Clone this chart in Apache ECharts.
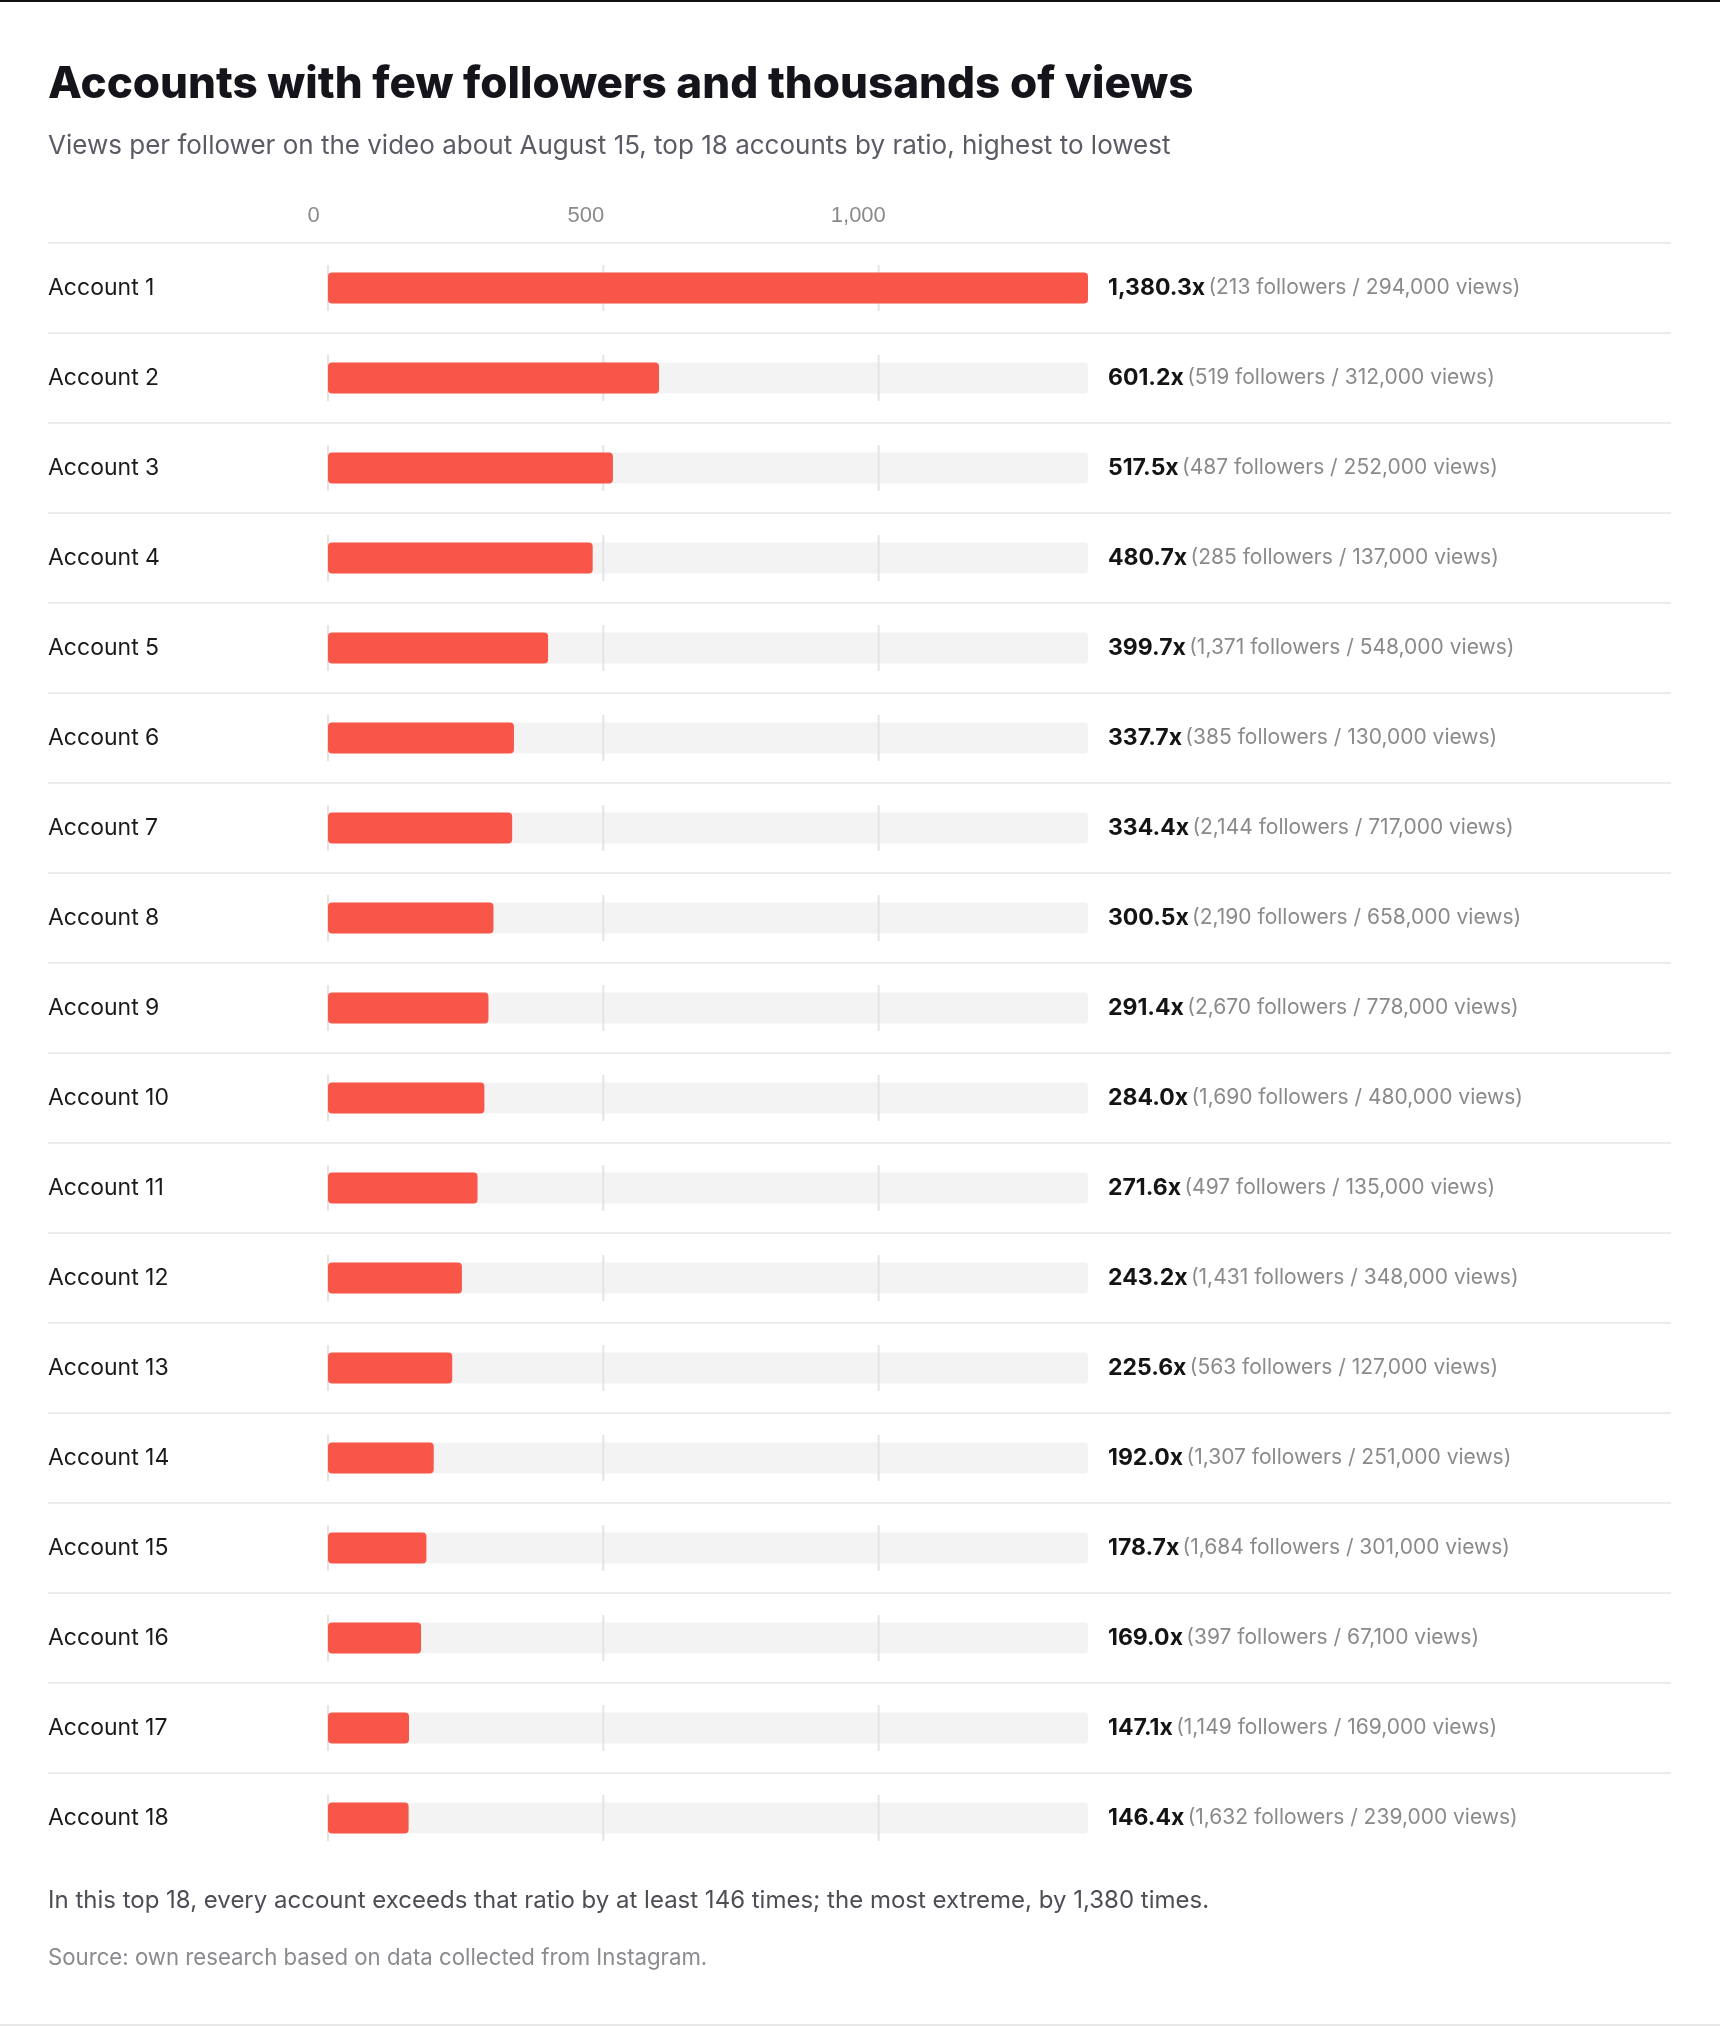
<!DOCTYPE html>
<html>
<head>
<meta charset="utf-8">
<script src="https://cdn.jsdelivr.net/npm/echarts@6/dist/echarts.min.js"></script>
<style>
  html, body { margin: 0; padding: 0; background: #ffffff; }
  #wrap { position: relative; width: 1720px; height: 2026px; overflow: hidden; background: #fff; }
  #chart { position: absolute; left: 0; top: 0; width: 1720px; height: 2026px; }
  #topline { position: absolute; left: 0; top: 0; width: 1720px; height: 2px; background: #111114; z-index: 2; }
  #botline { position: absolute; left: 0; bottom: 0; width: 1720px; height: 2px; background: #e8e8e8; z-index: 2; }
</style>
</head>
<body>
<div id="wrap">
  <div id="chart"></div>
  <div id="topline"></div>
  <div id="botline"></div>
</div>
<script>
// ---- data ----
const categories = ['Account 1','Account 2','Account 3','Account 4','Account 5','Account 6','Account 7','Account 8','Account 9','Account 10','Account 11','Account 12','Account 13','Account 14','Account 15','Account 16','Account 17','Account 18'];
const ratios = [1380.3, 601.2, 517.5, 480.7, 399.7, 337.7, 334.4, 300.5, 291.4, 284.0, 271.6, 243.2, 225.6, 192.0, 178.7, 169.0, 147.1, 146.4];
const followers = [213, 519, 487, 285, 1371, 385, 2144, 2190, 2670, 1690, 497, 1431, 563, 1307, 1684, 397, 1149, 1632];
const views = [294000, 312000, 252000, 137000, 548000, 130000, 717000, 658000, 778000, 480000, 135000, 348000, 127000, 251000, 301000, 67100, 169000, 239000];
const tickValues = [0, 500, 1000];
const tickLabels = ['0', '500', '1,000'];

const titleText = 'Accounts with few followers and thousands of views';
const subtitleText = 'Views per follower on the video about August 15, top 18 accounts by ratio, highest to lowest';
const noteText = 'In this top 18, every account exceeds that ratio by at least 146 times; the most extreme, by 1,380 times.';
const sourceText = 'Source: own research based on data collected from Instagram.';

// ---- helpers ----
const FONT = 'Inter, "Noto Sans", sans-serif';
const axisMax = Math.max.apply(null, ratios);
const fmtInt = n => n.toLocaleString('en-US');
const fmtRatio = n => n.toLocaleString('en-US', { minimumFractionDigits: 1, maximumFractionDigits: 1 }) + 'x';

const trackData = categories.map(() => axisMax);
const tickMarks = [];
categories.forEach(c => tickValues.forEach(t => tickMarks.push([t, c])));
const sepData = categories.map(c => [0, c]);

const chart = echarts.init(document.getElementById('chart'), null, { renderer: 'canvas' });

const option = {
  backgroundColor: '#ffffff',
  animation: false,
  title: [
    { text: titleText, left: 48, top: 63, padding: 0,
      textStyle: { fontFamily: FONT, fontSize: 44, fontWeight: 800, color: '#15141a' } },
    { text: subtitleText, left: 48, top: 133, padding: 0,
      textStyle: { fontFamily: FONT, fontSize: 26, fontWeight: 400, color: '#5b5b66' } },
    { text: noteText, left: 48, top: 1889, padding: 0,
      textStyle: { fontFamily: FONT, fontSize: 24, fontWeight: 400, color: '#4d4d55' } },
    { text: sourceText, left: 48, top: 1947.5, padding: 0,
      textStyle: { fontFamily: FONT, fontSize: 22.2, fontWeight: 400, color: '#8a8a8f' } }
  ],
  grid: [
    { left: 328, top: 243, width: 760, height: 1620 },
    { left: 48, top: 243, width: 1623, height: 1620 },
    { left: 313.5, top: 243, width: 752, height: 1620 }
  ],
  xAxis: [
    { type: 'value', gridIndex: 0, min: 0, max: axisMax, show: false },
    { type: 'value', gridIndex: 1, min: 0, max: 1, show: false },
    { type: 'value', gridIndex: 2, min: 0, max: axisMax, interval: 500, position: 'top',
      axisLine: { show: false }, axisTick: { show: false }, splitLine: { show: false },
      axisLabel: {
        show: true, margin: 16, color: '#8a8a8a', fontSize: 22,
        fontFamily: 'Liberation Sans, Arial, sans-serif',
        formatter: v => { const i = tickValues.indexOf(v); return i >= 0 ? tickLabels[i] : ''; }
      } }
  ],
  yAxis: [
    { type: 'category', gridIndex: 0, data: categories, inverse: true,
      axisLine: { show: false }, axisTick: { show: false }, splitLine: { show: false },
      axisLabel: { show: true, margin: 280, align: 'left', color: '#1a1a1a', fontSize: 23, fontFamily: FONT } },
    { type: 'category', gridIndex: 1, data: categories, inverse: true, show: false },
    { type: 'category', gridIndex: 2, data: categories, inverse: true, show: false }
  ],
  series: [
    {
      type: 'custom', xAxisIndex: 1, yAxisIndex: 1, z: 0,
      data: sepData,
      encode: { x: 0, y: 1 },
      renderItem: function (params, api) {
        const pt = api.coord([0, api.value(1)]);
        const band = api.size([0, 1])[1];
        const y = Math.round(pt[1] - band / 2);
        const cs = params.coordSys;
        return { type: 'line',
          shape: { x1: cs.x, y1: y, x2: cs.x + cs.width, y2: y },
          style: { stroke: '#ececec', lineWidth: 2 } };
      }
    },
    {
      type: 'bar', xAxisIndex: 0, yAxisIndex: 0, z: 1,
      data: trackData, barWidth: 31, barGap: '-100%',
      itemStyle: { color: '#f3f3f3', borderRadius: 4 },
      label: {
        show: true, position: 'right', distance: 20,
        formatter: p => '{v|' + fmtRatio(ratios[p.dataIndex]) + '} {d|(' + fmtInt(followers[p.dataIndex]) + ' followers / ' + fmtInt(views[p.dataIndex]) + ' views)}',
        rich: {
          v: { fontFamily: FONT, fontSize: 23, fontWeight: 700, color: '#141414' },
          d: { fontFamily: FONT, fontSize: 21, fontWeight: 400, color: '#8a8a8a' }
        }
      },
      silent: true
    },
    {
      type: 'scatter', xAxisIndex: 0, yAxisIndex: 0, z: 2,
      data: tickMarks, symbol: 'rect', symbolSize: [2, 46],
      itemStyle: { color: '#e4e4e4', opacity: 1 }, silent: true
    },
    {
      type: 'bar', xAxisIndex: 0, yAxisIndex: 0, z: 3,
      data: ratios, barWidth: 31, barGap: '-100%',
      itemStyle: { color: '#f75648', borderRadius: 4 }, silent: true
    }
  ]
};
chart.setOption(option);
</script>
</body>
</html>
